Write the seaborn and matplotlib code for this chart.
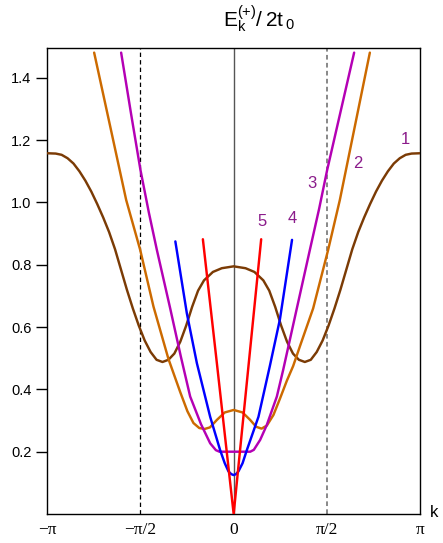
import numpy as np
import pandas as pd
import seaborn as sns
import matplotlib.pyplot as plt

# Curves (k in radians, energy in units of 2t0)
k1 = [-3.1416, -3.0, -2.9, -2.8, -2.7, -2.6, -2.5, -2.4, -2.3, -2.2, -2.1, -2.0, -1.9, -1.8,
      -1.7, -1.6, -1.5, -1.4, -1.3, -1.2, -1.1, -1.0, -0.9, -0.8, -0.7, -0.6, -0.5, -0.35,
      -0.2, 0.0, 0.2, 0.35, 0.5, 0.6, 0.7, 0.8, 0.9, 1.0, 1.1, 1.2, 1.3, 1.4, 1.5, 1.6, 1.7,
      1.8, 1.9, 2.0, 2.1, 2.2, 2.3, 2.4, 2.5, 2.6, 2.7, 2.8, 2.9, 3.0, 3.1416]
e1 = [1.158, 1.157, 1.153, 1.142, 1.125, 1.100, 1.070, 1.035, 0.995, 0.952, 0.905, 0.850,
      0.785, 0.720, 0.660, 0.605, 0.557, 0.520, 0.495, 0.488, 0.495, 0.515, 0.553, 0.605,
      0.665, 0.717, 0.750, 0.777, 0.789, 0.795, 0.789, 0.777, 0.750, 0.717, 0.665, 0.605,
      0.553, 0.515, 0.495, 0.488, 0.495, 0.520, 0.557, 0.605, 0.660, 0.720, 0.785, 0.850,
      0.905, 0.952, 0.995, 1.035, 1.070, 1.100, 1.125, 1.142, 1.153, 1.157, 1.158]

k2 = [-2.352, -2.08, -1.812, -1.576, -1.352, -1.10, -0.902, -0.78, -0.678, -0.58, -0.49,
      -0.40, -0.283, -0.15, 0.0, 0.15, 0.278, 0.38, 0.47, 0.56, 0.671, 0.78, 0.897, 1.003,
      1.12, 1.34, 1.593, 1.79, 2.111, 2.296]
e2 = [1.481, 1.243, 1.008, 0.848, 0.666, 0.498, 0.392, 0.330, 0.292, 0.276, 0.273, 0.278,
      0.302, 0.326, 0.334, 0.326, 0.302, 0.280, 0.274, 0.284, 0.318, 0.370, 0.428, 0.475,
      0.540, 0.660, 0.848, 1.008, 1.308, 1.481]

k3 = [-1.897, -1.73, -1.571, -1.43, -1.295, -1.07, -0.89, -0.733, -0.55, -0.396, -0.30,
      -0.24, 0.0, 0.28, 0.34, 0.447, 0.557, 0.728, 0.834, 1.059, 1.285, 1.441, 1.576, 2.031]
e3 = [1.481, 1.285, 1.104, 0.968, 0.848, 0.660, 0.505, 0.377, 0.288, 0.227, 0.205, 0.200,
      0.200, 0.200, 0.206, 0.238, 0.285, 0.377, 0.462, 0.655, 0.848, 0.980, 1.104, 1.481]

k4 = [-0.983, -0.789, -0.62, -0.396, -0.228, -0.15, -0.088, -0.04, 0.0, 0.04, 0.081, 0.15,
      0.222, 0.418, 0.61, 0.78, 0.984]
e4 = [0.875, 0.644, 0.484, 0.312, 0.205, 0.163, 0.137, 0.128, 0.125, 0.128, 0.137, 0.163,
      0.205, 0.312, 0.475, 0.625, 0.880]

k5 = [-0.519, -0.283, 0.0, 0.232, 0.464]
e5 = [0.882, 0.484, 0.0, 0.441, 0.882]

curve_names = ['1', '2', '3', '4', '5']
curve_colors = ['#7b3b05', '#cc6a00', '#b400b4', '#0000ff', '#ff0000']
label_k = [2.896, 2.099, 1.323, 0.991, 0.475]
label_e = [1.201, 1.124, 1.062, 0.949, 0.938]

xtick_vals = [-np.pi, -np.pi / 2, 0, np.pi / 2, np.pi]
xtick_text = ['\u2212\u03c0', '\u2212\u03c0/2', '0', '\u03c0/2', '\u03c0']
ytick_vals = [0.2, 0.4, 0.6, 0.8, 1.0, 1.2, 1.4]

frames = []
for name, kk, ee in zip(curve_names, [k1, k2, k3, k4, k5], [e1, e2, e3, e4, e5]):
    frames.append(pd.DataFrame({'k': kk, 'E': ee, 'curve': name}))
df = pd.concat(frames, ignore_index=True)

sns.set_style('ticks')
plt.rcParams['font.family'] = ['Liberation Sans', 'DejaVu Sans']
plt.rcParams['text.color'] = 'black'

fig = plt.figure(figsize=(4.43, 5.43), dpi=100)
ax = fig.add_axes([0.1068, 0.0534, 0.8413, 0.8577])

# reference lines
ax.axvline(0, color='#555555', lw=1.0, zorder=1)
ax.axvline(-np.pi / 2, color='black', lw=0.9, ls=(0, (3.5, 2.5)), zorder=1)
ax.axvline(np.pi / 2, color='#888888', lw=1.4, ls=(0, (2.4, 1.7)), zorder=1)

sns.lineplot(data=df, x='k', y='E', hue='curve', palette=curve_colors,
             sort=False, estimator=None, legend=False, lw=1.75, ax=ax, zorder=3)

for name, kx, ey in zip(curve_names, label_k, label_e):
    ax.text(kx, ey, name, color='#8b1c8b', fontsize=12, ha='center', va='center')

ax.set_xlim(-np.pi, np.pi)
ax.set_ylim(0, 1.495)
ax.set_xticks(xtick_vals)
ax.set_xticklabels(xtick_text, fontfamily='Liberation Serif', fontsize=12.5)
ax.set_yticks(ytick_vals)
ax.set_yticklabels([f'{v:.1f}' for v in ytick_vals], fontsize=10.5)
ax.tick_params(axis='x', length=0, pad=6, colors='black')
ax.tick_params(axis='y', length=8, width=1, pad=3.5, direction='out', colors='black')
ax.set_xlabel('')
ax.set_ylabel('')
for sp in ax.spines.values():
    sp.set_visible(True)
    sp.set_color('black')
    sp.set_linewidth(1.0)

ax.text(1.027, 0.004, 'k', transform=ax.transAxes, ha='left', va='center', fontsize=12)
fig.text(0.585, 0.965, r'$\mathregular{E_k^{(+)}/\,2t_{\,0}}$', ha='center', va='center',
         fontsize=15)

fig.savefig('out.png', dpi=100)
